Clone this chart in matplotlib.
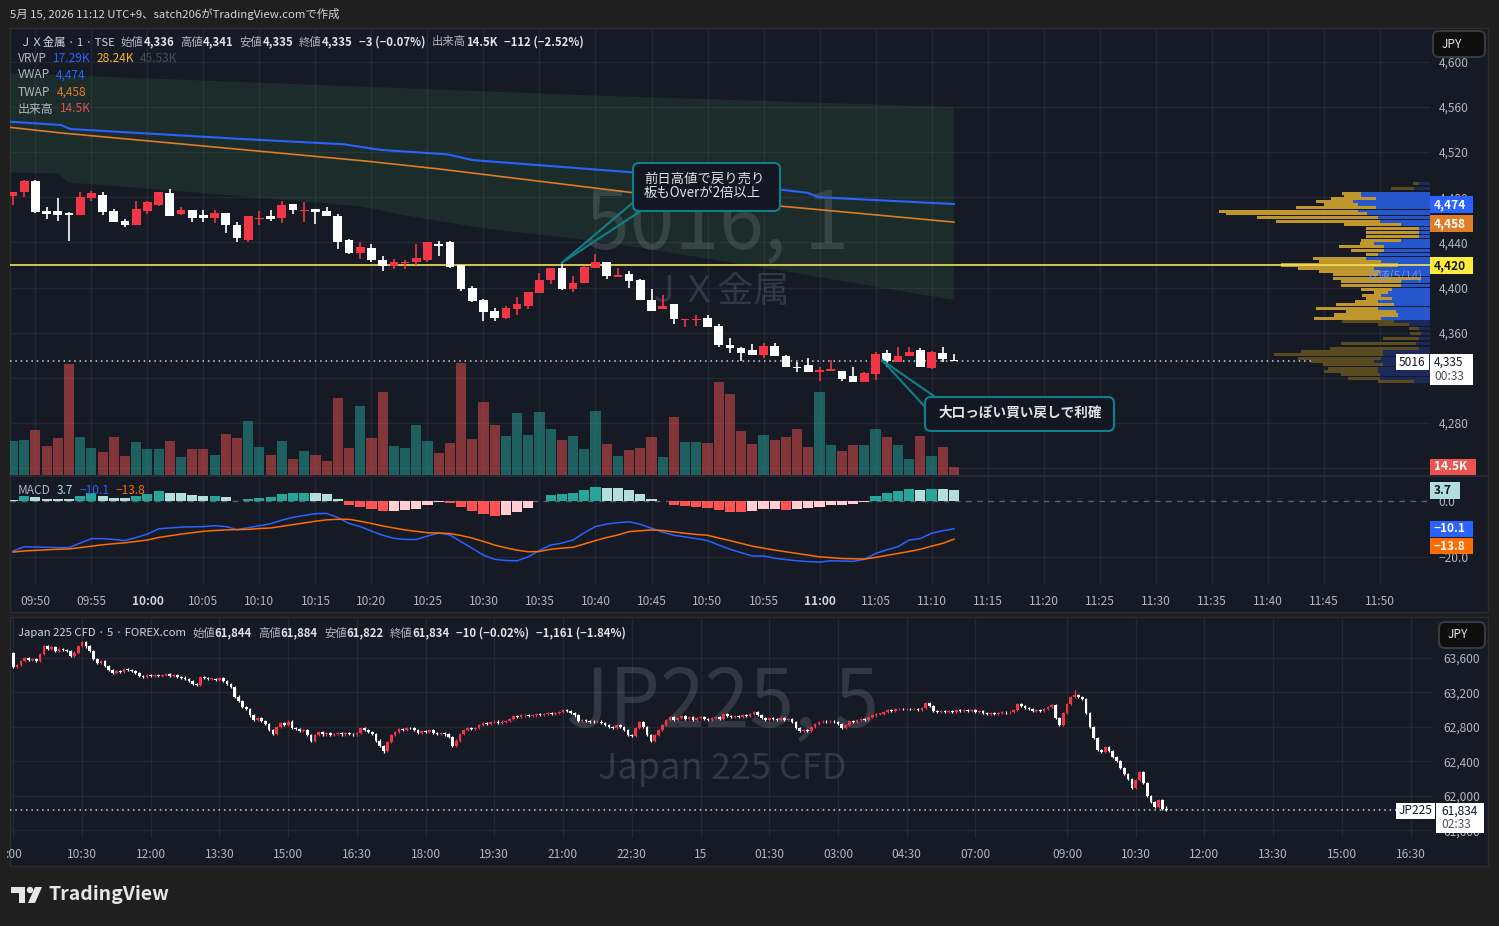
import matplotlib
matplotlib.use("Agg")
import matplotlib.pyplot as plt
from matplotlib.patches import Rectangle, FancyBboxPatch, Polygon, Circle
from matplotlib.lines import Line2D
from matplotlib.transforms import IdentityTransform

plt.rcParams['font.family'] = ['Noto Sans CJK JP', 'DejaVu Sans']

# ---------------- JX金属 1 min bars, 09:48 .. 11:12 (index 0 = 09:48)
jx_open = [4481, 4485, 4494, 4468, 4468, 4466, 4464, 4479, 4482, 4468,
           4459, 4455, 4468, 4473, 4484, 4465, 4469, 4464, 4462, 4466,
           4455, 4442, 4461, 4463, 4462, 4474, 4468, 4470, 4468, 4463,
           4442, 4431, 4435, 4424, 4419, 4422, 4423, 4424, 4439, 4440,
           4420, 4400, 4389, 4379, 4373, 4381, 4384, 4395, 4407, 4417,
           4399, 4404, 4417, 4423, 4409, 4412, 4407, 4389, 4381, 4385,
           4371, 4371, 4373, 4366, 4349, 4346, 4345, 4340, 4348, 4339,
           4330, 4331, 4325, 4326, 4326, 4322, 4316, 4323, 4342, 4334,
           4339, 4345, 4329, 4342, 4336]
jx_high = [4485, 4495, 4495, 4471, 4479, 4467, 4485, 4486, 4485, 4470,
           4461, 4477, 4477, 4485, 4487, 4471, 4469, 4469, 4469, 4466,
           4458, 4463, 4468, 4469, 4477, 4474, 4476, 4470, 4471, 4465,
           4443, 4440, 4439, 4428, 4425, 4424, 4439, 4440, 4441, 4441,
           4420, 4401, 4390, 4382, 4384, 4392, 4396, 4413, 4417, 4422,
           4410, 4419, 4430, 4423, 4417, 4415, 4408, 4399, 4393, 4385,
           4372, 4376, 4376, 4368, 4355, 4347, 4350, 4351, 4351, 4340,
           4334, 4338, 4330, 4336, 4326, 4330, 4325, 4343, 4345, 4347,
           4347, 4346, 4344, 4347, 4341]
jx_low = [4473, 4480, 4466, 4461, 4459, 4441, 4464, 4477, 4464, 4458,
          4454, 4455, 4465, 4472, 4463, 4464, 4458, 4458, 4457, 4448,
          4440, 4440, 4455, 4459, 4457, 4465, 4458, 4456, 4463, 4434,
          4430, 4425, 4423, 4415, 4416, 4416, 4420, 4423, 4428, 4417,
          4397, 4387, 4370, 4370, 4372, 4376, 4381, 4395, 4403, 4398,
          4396, 4404, 4417, 4408, 4409, 4400, 4389, 4379, 4381, 4368,
          4365, 4366, 4365, 4347, 4342, 4335, 4340, 4338, 4339, 4330,
          4325, 4325, 4317, 4326, 4317, 4316, 4316, 4318, 4330, 4334,
          4339, 4330, 4328, 4334, 4335]
jx_close = [4485, 4494, 4467, 4465, 4464, 4464, 4480, 4484, 4467, 4458,
            4455, 4470, 4476, 4485, 4463, 4469, 4462, 4462, 4466, 4455,
            4444, 4463, 4462, 4461, 4473, 4469, 4469, 4467, 4463, 4440,
            4431, 4436, 4424, 4419, 4423, 4423, 4426, 4440, 4437, 4418,
            4399, 4388, 4378, 4373, 4382, 4385, 4396, 4407, 4417, 4399,
            4404, 4418, 4423, 4410, 4411, 4406, 4389, 4379, 4384, 4372,
            4372, 4372, 4365, 4349, 4346, 4342, 4340, 4348, 4339, 4330,
            4329, 4325, 4327, 4328, 4319, 4316, 4324, 4341, 4335, 4339,
            4343, 4330, 4343, 4337, 4335]
jx_volume_k = [64, 66, 85, 55, 70, 209, 71, 51, 43, 71,
               36, 62, 49, 49, 64, 34, 49, 49, 38, 77,
               70, 102, 53, 38, 64, 30, 45, 38, 26, 145,
               51, 130, 70, 156, 55, 51, 94, 64, 41, 60,
               211, 68, 137, 94, 73, 117, 75, 119, 87, 66,
               73, 49, 120, 58, 36, 47, 51, 71, 34, 109,
               62, 62, 60, 175, 152, 83, 58, 75, 66, 71,
               87, 53, 156, 56, 45, 56, 56, 87, 71, 56,
               30, 73, 36, 53, 14.5]
macd_line = [-18.0, -16.5, -16.6, -16.7, -16.8, -16.8, -15.2, -13.6, -13.6, -13.9,
             -14.3, -13.2, -12.0, -10.1, -9.8, -9.5, -9.4, -9.3, -9.0, -9.3,
             -10.4, -9.7, -9.0, -8.3, -7.0, -6.0, -5.3, -4.7, -4.6, -6.1,
             -8.2, -9.3, -10.9, -12.4, -13.5, -13.9, -13.9, -12.7, -11.6, -12.3,
             -14.7, -17.1, -19.5, -21.0, -21.4, -21.5, -20.1, -17.8, -15.9, -15.2,
             -14.1, -11.5, -9.3, -8.4, -7.9, -7.6, -8.5, -9.9, -11.3, -12.4,
             -13.0, -13.6, -14.3, -15.9, -17.4, -18.6, -19.8, -19.8, -20.6, -21.1,
             -21.5, -21.8, -22.0, -21.5, -21.6, -21.7, -21.0, -18.9, -17.6, -16.5,
             -14.1, -13.6, -11.7, -10.8, -10.1]
macd_signal = [-18.4, -18.0, -17.8, -17.6, -17.4, -17.3, -16.8, -16.3, -15.8, -15.4,
               -15.1, -14.6, -14.1, -13.2, -12.6, -12.0, -11.5, -11.0, -10.7, -10.5,
               -10.4, -10.3, -10.0, -9.8, -9.2, -8.6, -8.0, -7.4, -6.9, -6.7,
               -6.7, -7.4, -8.2, -9.1, -9.8, -10.5, -11.0, -11.5, -11.6, -11.8,
               -12.5, -13.4, -14.6, -15.9, -16.9, -17.7, -18.3, -18.2, -17.4, -17.0,
               -16.7, -15.5, -14.3, -13.2, -12.3, -11.1, -10.8, -10.5, -10.7, -11.2,
               -11.7, -12.1, -12.4, -13.4, -14.3, -15.3, -16.3, -17.0, -17.7, -18.3,
               -18.9, -19.5, -20.1, -20.4, -20.7, -20.8, -20.9, -20.3, -19.6, -18.9,
               -18.2, -17.4, -16.3, -15.3, -13.8]
macd_hist = [0.2, 1.7, 1.25, 0.65, 0.5, 0.45, 1.6, 2.8, 1.7, 1.0,
             0.95, 1.7, 2.4, 3.4, 2.8, 2.75, 2.1, 1.6, 1.75, 1.25,
             -0.3, 0.5, 1.0, 1.4, 2.3, 2.6, 2.85, 2.8, 2.3, 0.5,
             -1.5, -2.2, -2.9, -3.7, -3.6, -3.5, -2.9, -1.5, -0.5, -0.8,
             -2.2, -3.6, -4.7, -5.4, -5.1, -4.0, -2.6, -0.2, 2.1, 2.15,
             2.8, 3.9, 4.9, 4.6, 4.5, 3.9, 2.4, 0.5, -0.3, -1.5,
             -1.9, -2.2, -2.6, -3.3, -4.0, -4.1, -3.9, -3.0, -2.9, -3.3,
             -2.9, -2.8, -2.2, -1.5, -1.45, -1.1, -0.4, 1.7, 2.8, 3.5,
             4.2, 3.9, 4.2, 4.1, 3.7]
jx_time_labels = ['09:50', '09:55', '10:00', '10:05', '10:10', '10:15', '10:20', '10:25',
                  '10:30', '10:35', '10:40', '10:45', '10:50', '10:55', '11:00', '11:05',
                  '11:10', '11:15', '11:20', '11:25', '11:30', '11:35', '11:40', '11:45', '11:50']
jx_time_pos = [2 + 5 * k for k in range(len(jx_time_labels))]
jx_price_ticks = [4240, 4280, 4320, 4360, 4400, 4440, 4480, 4520, 4560, 4600]
jx_hidden_ticks = [4240, 4320]   # covered by the price tags

# VWAP / TWAP / band vertices (bar index, price)
vwap_i = [-0.3, 4.3, 5.1, 20.7, 29.5, 32.8, 38.8, 41.0, 55.4, 70.9, 72.0, 84.0]
vwap_p = [4547, 4544, 4540.5, 4531.5, 4527, 4522, 4518, 4513, 4502, 4484, 4480, 4474]
twap_i = [-0.3, 4.3, 15.3, 31.6, 38.1, 55.4, 70.9, 84.0]
twap_p = [4542, 4537, 4527, 4512, 4505, 4484, 4470, 4458]
band_top_i = [-0.3, 52.4, 84.0]
band_top_p = [4590, 4570, 4560]
band_bot_i = [-0.3, 4.0, 5.0, 16.7, 31.0, 35.0, 41.7, 53.0, 68.0, 84.0]
band_bot_p = [4502, 4501, 4493, 4484, 4472, 4464, 4453, 4440, 4416, 4389]
prev_low = 4420

# visible-range volume profile rows (price, up K, down K)
vp_price = [4492.6, 4487.8, 4483.7, 4481.6, 4479.0, 4476.0, 4473.4, 4470.7, 4467.8, 4465.4,
            4462.5, 4458.9, 4456.0, 4452.7, 4448.9, 4445.1, 4442.1, 4439.2, 4436.2, 4432.7,
            4428.9, 4425.9, 4423.0, 4420.0, 4417.1, 4414.1, 4411.2, 4408.2, 4405.3, 4401.7,
            4397.9, 4395.5, 4392.9, 4390.2, 4387.5, 4384.6, 4381.6, 4378.7, 4375.7, 4372.8,
            4369.8, 4366.9, 4363.4, 4358.9, 4354.5, 4350.1, 4346.2, 4343.3, 4340.3, 4337.4,
            4334.4, 4331.5, 4328.5, 4325.6, 4322.6, 4319.7, 4316.7]
vp_up = [2.3, 3.4, 14.9, 14.9, 11.7, 16.7, 15.6, 11.7, 15.6, 13.5,
         11.3, 10.9, 6.3, 2.3, 2.3, 2.3, 6.3, 12.0, 9.9, 9.9,
         11.3, 13.8, 10.6, 7.0, 12.0, 10.9, 11.3, 1.9, 6.3, 6.3,
         8.1, 9.1, 10.6, 8.1, 11.3, 7.7, 11.3, 7.3, 7.0, 10.6,
         7.7, 4.5, 2.3, 1.9, 2.3, 3.0, 2.3, 10.2, 10.2, 10.6,
         12.0, 10.2, 11.3, 11.3, 10.9, 10.9, 3.4]
vp_down = [1.4, 5.0, 4.1, 3.6, 9.7, 7.9, 7.2, 17.3, 29.9, 30.6,
           26.1, 22.3, 12.2, 11.5, 11.5, 11.5, 8.6, 3.2, 9.7, 7.2,
           2.5, 11.5, 13.3, 25.2, 16.6, 13.0, 9.7, 19.1, 13.0, 13.0,
           6.8, 2.9, 4.0, 5.8, 5.0, 12.6, 13.3, 10.8, 13.7, 14.4,
           11.2, 6.8, 2.2, 2.5, 7.9, 16.2, 19.4, 17.6, 23.4, 18.0,
           13.7, 13.0, 10.8, 11.5, 8.3, 6.8, 7.9]
va_low, va_high = 4372, 4486

# ---------------- Japan 225 CFD 5 min closes, index 0 = 05/14 09:00 (06:00-07:00 break skipped)
jp_first_open = 63650
jp_close = [63490, 63520, 63560, 63600, 63570, 63590, 63560, 63640, 63740, 63700,
            63720, 63680, 63700, 63690, 63680, 63620, 63660, 63740, 63780, 63730,
            63680, 63580, 63540, 63560, 63500, 63460, 63420, 63440, 63430, 63470,
            63460, 63450, 63420, 63390, 63380, 63400, 63390, 63400, 63390, 63400,
            63410, 63390, 63400, 63380, 63370, 63350, 63330, 63300, 63280, 63380,
            63360, 63350, 63350, 63340, 63360, 63330, 63300, 63260, 63150, 63100,
            63030, 63000, 62930, 62880, 62900, 62870, 62830, 62760, 62720, 62800,
            62840, 62820, 62860, 62780, 62770, 62750, 62760, 62700, 62630, 62700,
            62740, 62710, 62730, 62700, 62720, 62730, 62710, 62730, 62720, 62710,
            62730, 62790, 62760, 62740, 62720, 62640, 62580, 62520, 62620, 62700,
            62740, 62770, 62760, 62790, 62780, 62760, 62730, 62750, 62740, 62760,
            62730, 62720, 62730, 62710, 62680, 62580, 62640, 62720, 62760, 62780,
            62770, 62790, 62820, 62840, 62830, 62850, 62860, 62840, 62860, 62870,
            62890, 62920, 62910, 62930, 62940, 62920, 62930, 62950, 62940, 62950,
            62960, 62950, 62960, 62970, 62990, 62980, 62960, 62930, 62870, 62880,
            62870, 62860, 62850, 62860, 62840, 62820, 62800, 62790, 62820, 62800,
            62760, 62700, 62690, 62780, 62850, 62800, 62700, 62630, 62700, 62760,
            62820, 62880, 62910, 62880, 62900, 62920, 62890, 62910, 62880, 62900,
            62910, 62890, 62880, 62900, 62910, 62890, 62950, 62920, 62910, 62920,
            62910, 62930, 62920, 62950, 62975, 62940, 62900, 62880, 62900, 62890,
            62880, 62900, 62880, 62890, 62850, 62780, 62745, 62760, 62745, 62800,
            62830, 62850, 62860, 62850, 62860, 62850, 62830, 62790, 62820, 62870,
            62860, 62880, 62890, 62880, 62910, 62930, 62945, 62950, 62970, 62990,
            62980, 63000, 63010, 63000, 63010, 63000, 63005, 62995, 63020, 63070,
            63040, 62980, 62975, 62985, 62975, 62985, 62975, 62990, 62980, 62990,
            62980, 62990, 62970, 62985, 62960, 62950, 62960, 62950, 62960, 62975,
            62965, 62975, 62990, 63065, 63040, 63020, 63000, 62985, 62995, 62985,
            63000, 63030, 63050, 62900, 62820, 62960, 63060, 63140, 63170, 63140,
            63120, 62960, 62800, 62670, 62530, 62510, 62560, 62520, 62450, 62400,
            62320, 62250, 62190, 62090, 62180, 62270, 62150, 62000, 61930, 61870,
            61950, 61844, 61834]
jp_high_read = {278: 63225, 302: 61884}
jp_low_read = {97: 62500, 302: 61822}
jp_tick_pos = [0, 18, 36, 54, 72, 90, 108, 126, 144, 162, 180, 198, 216, 234, 252,
               276, 294, 312, 330, 348, 366]
jp_tick_lab = [':00', '10:30', '12:00', '13:30', '15:00', '16:30', '18:00', '19:30',
               '21:00', '22:30', '15', '01:30', '03:00', '04:30', '07:00', '09:00',
               '10:30', '12:00', '13:30', '15:00', '16:30']
jp_price_ticks = [61600, 62000, 62400, 62800, 63200, 63600]

# ---------------- style
W, H = 1499, 926
BG = '#1f1f1f'
PANE = '#161a25'
GRID = '#242834'
TXT = '#b2b5be'
BRIGHT = '#e1e3ea'
UPC = '#f23645'
DNC = '#ffffff'
BLUE = '#2962ff'
TW_OR = '#e07b28'
TEAL_BOX = '#0f7f88'
HS = 8.2   # header font size

fig = plt.figure(figsize=(W / 100, H / 100), dpi=100, facecolor=BG)


def rect(x0, y0, x1, y1):
    return [x0 / W, 1 - y1 / H, (x1 - x0) / W, (y1 - y0) / H]


def box(x0, y0, x1, y1, fc, ec='none', z=0.2, lw=1.0):
    fig.add_artist(Rectangle((x0 / W, 1 - y1 / H), (x1 - x0) / W, (y1 - y0) / H,
                             transform=fig.transFigure, fc=fc, ec=ec, lw=lw, zorder=z))


def label(x, y, s, color=TXT, size=8.6, weight='normal', ha='left', z=7, **kw):
    return fig.text(x / W, 1 - y / H, s, color=color, fontsize=size, fontweight=weight,
                    ha=ha, va='center', zorder=z, **kw)


def tag(x0, x1, y0, y1, s, fc, tc):
    box(x0, y0, x1, y1, fc, z=6)
    label(x0 + 4, (y0 + y1) / 2, s, color=tc, weight='bold')


def seq(x, y, parts, size=HS):
    r = fig.canvas.get_renderer()
    for s, c, w, gap in parts:
        t = label(x, y, s, color=c, size=size, weight=w)
        x += t.get_window_extent(r).width + gap


def rbox(x0, y0, x1, y1, fc, ec, z):
    fig.add_artist(FancyBboxPatch((x0, H - y1), x1 - x0, y1 - y0,
                                  boxstyle='round,pad=0,rounding_size=6',
                                  transform=IdentityTransform(), fc=fc, ec=ec, lw=1.5, zorder=z))


# panels
box(10, 28, 1488, 612, PANE, ec='#2c2c2c', z=0.1)
box(10, 617, 1488, 866, PANE, ec='#2c2c2c', z=0.1)
fig.add_artist(Line2D([10 / W, 1488 / W], [1 - 475.5 / H] * 2, transform=fig.transFigure,
                      color='#2a2e39', lw=1.2, zorder=0.3))

# ---------------- top pane
X0, X1 = -0.27, 126.5
PLO, PHI = 4233.9, 4630.0
VMAX = 840.0
VPMAX = 306.7
idx = list(range(len(jx_close)))
up = [c >= o for o, c in zip(jx_open, jx_close)]

ax_vol = fig.add_axes(rect(10, 28, 1430, 475))
ax = fig.add_axes(rect(10, 28, 1430, 475), sharex=ax_vol)
ax_vp = fig.add_axes(rect(10, 28, 1430, 475), sharey=ax)
ax_vol.set_zorder(1)
ax_vp.set_zorder(2)
ax.set_zorder(3)
for a in (ax_vol, ax, ax_vp):
    a.set_facecolor('none')
    for s in a.spines.values():
        s.set_visible(False)
ax_vol.set_xlim(X0, X1)
ax_vol.set_ylim(0, VMAX)
ax_vol.axis('off')
ax.set_ylim(PLO, PHI)

for t in jx_time_pos:
    ax_vol.axvline(t, color=GRID, lw=1, zorder=0)
for p in jx_price_ticks:
    ax_vol.axhline((p - PLO) / (PHI - PLO) * VMAX, color=GRID, lw=1, zorder=0)

ax_vol.text(717 / W, 1 - 226 / H, '5016, 1', transform=fig.transFigure, fontsize=58,
            color='#ffffff', alpha=0.13, ha='center', va='center', zorder=0.5)
ax_vol.text(717 / W, 1 - 292 / H, 'ＪＸ金属', transform=fig.transFigure, fontsize=26,
            color='#ffffff', alpha=0.13, ha='center', va='center', zorder=0.5)

vol_col = ['#26a69a' if u else '#ef5350' for u in up]
ax_vol.bar(idx, jx_volume_k, width=0.9, color=vol_col, alpha=0.5, zorder=1)

# volume profile from the right edge
ax_vp.set_xlim(VPMAX, 0)
ax_vp.axis('off')
ax_vp.axhline(jx_close[-1], xmin=0, xmax=(1396 - 10) / 1420, color='#d1d4dc', lw=1.1,
              ls=(0, (1, 2.5)), zorder=0.5)
in_va = [va_low <= p <= va_high for p in vp_price]
ax_vp.barh(vp_price, vp_up, height=2.7, left=0,
           color=['#2556cc' if v else '#1c2a5a' for v in in_va], zorder=1)
ax_vp.barh(vp_price, vp_down, height=2.7, left=vp_up,
           color=['#c0972c' if v else '#5a4a22' for v in in_va], zorder=1)

# price pane: band, vwap, twap, candles
ax.tick_params(axis='x', bottom=False, labelbottom=False, top=False, labeltop=False)
ax.set_yticks(jx_price_ticks)
ax.set_yticklabels(['' if p in jx_hidden_ticks else f'{p:,}' for p in jx_price_ticks])
ax.tick_params(axis='y', left=False, right=True, labelleft=False, labelright=True,
               length=0, pad=6, labelsize=8.6, labelcolor=TXT)
band_poly = list(zip(band_top_i, band_top_p)) + list(zip(band_bot_i[::-1], band_bot_p[::-1]))
ax.add_patch(Polygon(band_poly, closed=True, fc='#4caf50', alpha=0.12, ec='none', zorder=1))
ax.plot(vwap_i, vwap_p, color=BLUE, lw=1.5, zorder=2)
ax.plot(twap_i, twap_p, color=TW_OR, lw=1.2, zorder=2)
ax.axhline(prev_low, color='#f2e35a', lw=1.2, zorder=3)

cc = [UPC if u else DNC for u in up]
ax.vlines(idx, jx_low, jx_high, color=cc, lw=1.2, zorder=4)
body_lo = [min(o, c) for o, c in zip(jx_open, jx_close)]
body_h = [max(abs(c - o), 0.9) for o, c in zip(jx_open, jx_close)]
ax.bar(idx, body_h, bottom=body_lo, width=0.78, color=cc, zorder=5)

# MACD pane
ax_m = fig.add_axes(rect(10, 476, 1430, 584), sharex=ax_vol)
ax_m.set_zorder(1)
ax_m.set_facecolor('none')
for s in ax_m.spines.values():
    s.set_visible(False)
ax_m.set_ylim(-29.8, 8.75)
for t in jx_time_pos:
    ax_m.axvline(t, color=GRID, lw=1, zorder=0)
ax_m.axhline(-20, color=GRID, lw=1, zorder=0)
ax_m.axhline(0, color='#5d606b', lw=1, ls=(0, (4, 4)), zorder=0)
hist_col = []
for k, h in enumerate(macd_hist):
    prev = macd_hist[k - 1] if k > 0 else h
    if h >= 0:
        hist_col.append('#26a69a' if h > prev else '#b2dfdb')
    else:
        hist_col.append('#ff5252' if h < prev else '#ffcdd2')
ax_m.bar(idx, macd_hist, width=0.9, color=hist_col, zorder=1)
ax_m.plot(idx, macd_line, color=BLUE, lw=1.1, zorder=2)
ax_m.plot(idx, macd_signal, color='#ff6d00', lw=1.1, zorder=2)
ax_m.set_yticks([0, -20])
ax_m.set_yticklabels(['0.0', '−20.0'])
ax_m.set_xticks(jx_time_pos)
ax_m.set_xticklabels(jx_time_labels)
ax_m.tick_params(axis='y', left=False, right=True, labelleft=False, labelright=True,
                 length=0, pad=6, labelsize=8.6, labelcolor=TXT)
ax_m.tick_params(axis='x', length=0, pad=8, labelsize=8.6, labelcolor=TXT)
for t in ax_m.get_xticklabels():
    if t.get_text().endswith(':00'):
        t.set_fontweight('bold')
        t.set_color('#d1d4dc')

# ---------------- bottom pane (Japan 225)
ax_j = fig.add_axes(rect(10, 618, 1432, 838))
ax_j.set_zorder(1)
ax_j.set_facecolor('none')
for s in ax_j.spines.values():
    s.set_visible(False)
ax_j.set_xlim(-0.864, 371.6)
ax_j.set_ylim(61510, 64060)
for t in jp_tick_pos:
    ax_j.axvline(t, color=GRID, lw=1, zorder=0)
for p in jp_price_ticks:
    ax_j.axhline(p, color=GRID, lw=1, zorder=0)
ax_j.text(722 / W, 1 - 704 / H, 'JP225, 5', transform=fig.transFigure, fontsize=58,
          color='#ffffff', alpha=0.13, ha='center', va='center', zorder=0.5)
ax_j.text(722 / W, 1 - 769 / H, 'Japan 225 CFD', transform=fig.transFigure, fontsize=26,
          color='#ffffff', alpha=0.13, ha='center', va='center', zorder=0.5)
ax_j.axhline(jp_close[-1], xmin=0, xmax=(1396 - 10) / 1422, color='#d1d4dc', lw=1.1,
             ls=(0, (1, 2.5)), zorder=1)

jp_open = [jp_first_open] + jp_close[:-1]
jn = list(range(len(jp_close)))
jcol = [UPC if c >= o else DNC for o, c in zip(jp_open, jp_close)]
jhi = [jp_high_read.get(n, max(o, c) + 12) for n, o, c in zip(jn, jp_open, jp_close)]
jlo = [jp_low_read.get(n, min(o, c) - 12) for n, o, c in zip(jn, jp_open, jp_close)]
ax_j.vlines(jn, jlo, jhi, color=jcol, lw=0.9, zorder=2)
ax_j.bar(jn, [max(abs(c - o), 10) for o, c in zip(jp_open, jp_close)],
         bottom=[min(o, c) for o, c in zip(jp_open, jp_close)], width=0.7, color=jcol, zorder=3)
ax_j.set_yticks(jp_price_ticks)
ax_j.set_yticklabels([f'{p:,}' for p in jp_price_ticks])
ax_j.set_xticks(jp_tick_pos)
ax_j.set_xticklabels(jp_tick_lab)
ax_j.tick_params(axis='y', left=False, right=True, labelleft=False, labelright=True,
                 length=0, pad=8, labelsize=8.6, labelcolor=TXT)
ax_j.tick_params(axis='x', length=0, pad=7, labelsize=8.6, labelcolor=TXT)

# ---------------- callouts
tip1 = ax.transData.transform((49, jx_high[49]))
for bx, by in ((633, 202.5), (641.5, 210.5)):
    fig.add_artist(Line2D([bx, tip1[0]], [H - by, tip1[1]], transform=IdentityTransform(),
                          color=TEAL_BOX, lw=1.5, zorder=5))
rbox(633, 163, 780, 211, '#131722', TEAL_BOX, 5.5)
label(644, 186, '前日高値で戻り売り\n板もOverが2倍以上', color=BRIGHT, size=9.6, linespacing=1.0)

tip2 = ax.transData.transform((77.6, 4335.5))
for bx, by in ((936, 397.5), (926, 408)):
    fig.add_artist(Line2D([bx, tip2[0]], [H - by, tip2[1]], transform=IdentityTransform(),
                          color=TEAL_BOX, lw=1.5, zorder=5))
rbox(925, 397, 1114, 431, '#131722', TEAL_BOX, 5.5)
label(1020, 413, '大口っぽい買い戻しで利確', color=BRIGHT, size=9.8, weight='bold', ha='center')

label(1422, 276, '安値(5/14)', color='#8797cf', ha='right', alpha=0.85)

# ---------------- price tags
tag(1430, 1473, 196, 213, '4,474', BLUE, '#ffffff')
tag(1430, 1473, 215, 232, '4,458', TW_OR, '#ffffff')
tag(1430, 1473, 257, 274, '4,420', '#ffeb3b', '#131722')
box(1396, 354, 1429, 370, '#ffffff', z=6)
label(1412, 362, '5016', color='#131722', ha='center')
box(1430, 354, 1473, 385, '#ffffff', z=6)
label(1434, 362, '4,335', color='#131722')
label(1434, 376, '00:33', color='#50535e')
tag(1430, 1476, 459, 475, '14.5K', '#ef5350', '#ffffff')
tag(1430, 1460, 482, 499, '3.7', '#b2dfdb', '#131722')
tag(1430, 1473, 521, 537, '−10.1', BLUE, '#ffffff')
tag(1430, 1473, 538, 554, '−13.8', '#ff6d00', '#ffffff')
box(1396, 803, 1435, 819, '#ffffff', z=6)
label(1415.5, 811, 'JP225', color='#131722', ha='center')
box(1436, 803, 1484, 833, '#ffffff', z=6)
label(1441, 811, '61,834', color='#131722')
label(1441, 825, '02:33', color='#50535e')

for y0, y1, x0 in ((31, 57, 1433), (622, 648, 1439)):
    rbox(x0, y0, 1485, y1, '#0e0e0e', '#3a3a3a', 6)
    label(x0 + 9, (y0 + y1) / 2, 'JPY', color=BRIGHT, size=8.6)

# ---------------- header texts
label(10, 14, '5月 15, 2026 11:12 UTC+9、satch206がTradingView.comで作成', color='#d1d4dc', size=HS)
seq(20, 42, [('ＪＸ金属 · 1 · TSE', '#d1d4dc', 'normal', 6),
             ('始値', TXT, 'normal', 0), ('4,336', BRIGHT, 'bold', 6),
             ('高値', TXT, 'normal', 0), ('4,341', BRIGHT, 'bold', 6),
             ('安値', TXT, 'normal', 0), ('4,335', BRIGHT, 'bold', 6),
             ('終値', TXT, 'normal', 0), ('4,335', BRIGHT, 'bold', 6),
             ('−3 (−0.07%)', BRIGHT, 'bold', 7),
             ('出来高', TXT, 'normal', 0), ('14.5K', BRIGHT, 'bold', 6),
             ('−112 (−2.52%)', BRIGHT, 'bold', 0)])
seq(18, 58, [('VRVP', TXT, 'normal', 6), ('17.29K', BLUE, 'normal', 6),
             ('28.24K', '#f0b428', 'normal', 6), ('45.53K', '#474b56', 'normal', 0)], size=8.6)
seq(18, 75, [('VWAP', TXT, 'normal', 6), ('4,474', BLUE, 'normal', 0)], size=8.6)
seq(18, 92, [('TWAP', TXT, 'normal', 6), ('4,458', TW_OR, 'normal', 0)], size=8.6)
seq(18, 109, [('出来高', TXT, 'normal', 6), ('14.5K', '#d9534f', 'normal', 0)], size=8.6)
seq(18, 490, [('MACD', TXT, 'normal', 6), ('3.7', '#b2dfdb', 'normal', 6),
              ('−10.1', BLUE, 'normal', 6), ('−13.8', '#ff6d00', 'normal', 0)], size=8.6)
seq(18, 633, [('Japan 225 CFD · 5 · FOREX.com', '#d1d4dc', 'normal', 6),
              ('始値', TXT, 'normal', 0), ('61,844', BRIGHT, 'bold', 6),
              ('高値', TXT, 'normal', 0), ('61,884', BRIGHT, 'bold', 6),
              ('安値', TXT, 'normal', 0), ('61,822', BRIGHT, 'bold', 6),
              ('終値', TXT, 'normal', 0), ('61,834', BRIGHT, 'bold', 6),
              ('−10 (−0.02%)', BRIGHT, 'bold', 7),
              ('−1,161 (−1.84%)', BRIGHT, 'bold', 0)])

# ---------------- TradingView logo
logo = '#e6e6e6'
fig.add_artist(Polygon([(11, H - 887), (25, H - 887), (25, H - 903), (19, H - 903),
                        (19, H - 893), (11, H - 893)], closed=True, fc=logo, ec='none',
                       transform=IdentityTransform(), zorder=5))
fig.add_artist(Circle((30, H - 890), 3.2, fc=logo, ec='none', transform=IdentityTransform(), zorder=5))
fig.add_artist(Polygon([(35, H - 887), (42, H - 887), (35, H - 903), (28, H - 903)], closed=True,
                       fc=logo, ec='none', transform=IdentityTransform(), zorder=5))
label(48, 895, 'TradingView', color=logo, size=14, weight='bold')

fig.savefig('out.png', dpi=100, facecolor=BG)
